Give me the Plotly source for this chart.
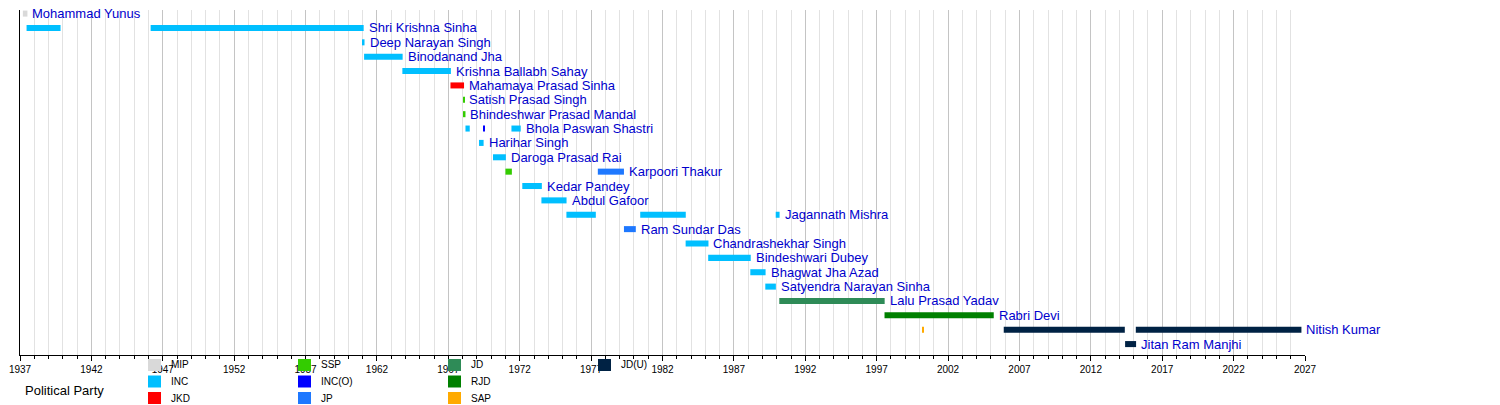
import plotly.graph_objects as go

# chief ministers, one row each (top to bottom)
names = [
    "Mohammad Yunus", "Shri Krishna Sinha", "Deep Narayan Singh", "Binodanand Jha",
    "Krishna Ballabh Sahay", "Mahamaya Prasad Sinha", "Satish Prasad Singh",
    "Bhindeshwar Prasad Mandal", "Bhola Paswan Shastri", "Harihar Singh",
    "Daroga Prasad Rai", "Karpoori Thakur", "Kedar Pandey", "Abdul Gafoor",
    "Jagannath Mishra", "Ram Sundar Das", "Chandrashekhar Singh", "Bindeshwari Dubey",
    "Bhagwat Jha Azad", "Satyendra Narayan Sinha", "Lalu Prasad Yadav", "Rabri Devi",
    "Nitish Kumar", "Jitan Ram Manjhi",
]

# terms in office (decimal years)
term_row = [0, 1, 1, 2, 3, 4, 5, 6, 7, 8, 8, 8, 9, 10, 11, 11, 12, 13,
            14, 14, 14, 15, 16, 17, 18, 19, 20, 21, 22, 22, 22, 23]
term_start = [1937.20, 1937.46, 1946.15, 1961.00, 1961.10, 1963.78, 1967.15, 1968.06,
              1968.07, 1968.20, 1969.43, 1971.42, 1969.15, 1970.13, 1971.00, 1977.47,
              1972.18, 1973.52, 1975.27, 1980.44, 1989.93, 1979.30, 1983.62, 1985.20,
              1988.15, 1989.20, 1990.18, 1997.55, 2000.18, 2005.90, 2015.15, 2014.40]
term_end = [1937.52, 1939.84, 1961.07, 1961.13, 1963.80, 1967.18, 1968.10, 1968.10,
            1968.20, 1968.50, 1969.55, 1972.07, 1969.47, 1971.03, 1971.45, 1979.30,
            1973.55, 1975.28, 1977.33, 1983.63, 1990.20, 1980.13, 1985.22, 1988.18,
            1989.22, 1989.94, 1997.56, 2005.20, 2000.25, 2014.38, 2026.75, 2015.17]
term_party = ["MIP", "INC", "INC", "INC", "INC", "INC", "JKD", "SSP",
              "SSP", "INC", "INC(O)", "INC", "INC", "INC", "SSP", "JP",
              "INC", "INC", "INC", "INC", "INC", "JP", "INC", "INC",
              "INC", "INC", "JD", "RJD", "SAP", "JD(U)", "JD(U)", "JD(U)"]

parties = ["MIP", "INC", "JKD", "SSP", "INC(O)", "JP", "JD", "RJD", "SAP", "JD(U)"]
party_colors = ["#d9d9d9", "#00bfff", "#ff0000", "#33cc00", "#0000ff",
                "#1e78ff", "#2e8b57", "#008000", "#ffaa00", "#002244"]

W, H = 1500, 405
ML, MR, MT, MB = 20, 195, 10, 50
font = "Liberation Sans, Arial, sans-serif"


def px_x(p):
    return (p - ML) / (W - ML - MR)


def px_y(p):
    return (H - MB - p) / (H - MT - MB)


fig = go.Figure()

for party, color in zip(parties, party_colors):
    idx = [i for i, p in enumerate(term_party) if p == party]
    if not idx:
        continue
    fig.add_trace(go.Bar(
        orientation="h",
        y=[term_row[i] for i in idx],
        base=[term_start[i] for i in idx],
        x=[term_end[i] - term_start[i] for i in idx],
        width=0.42,
        marker=dict(color=color, line=dict(width=0)),
        name=party,
        showlegend=False,
        hoverinfo="skip",
    ))

# name labels right after the last term of each row
for r, name in enumerate(names):
    last = max(term_end[i] for i in range(len(term_row)) if term_row[i] == r)
    fig.add_annotation(x=last, y=r, text=name, showarrow=False, xanchor="left",
                       yanchor="middle", xshift=3,
                       font=dict(family=font, size=13, color="#0000cc"))

# party key below the axis
fig.add_annotation(xref="paper", yref="paper", x=px_x(23), y=px_y(390), text="Political Party",
                   showarrow=False, xanchor="left", yanchor="middle",
                   font=dict(family=font, size=13, color="#000000"))
for k, (party, color) in enumerate(zip(parties, party_colors)):
    col, row = k // 3, k % 3
    left = 148 + 150 * col
    top = 359 + 16.5 * row
    fig.add_shape(type="rect", xref="paper", yref="paper", layer="above",
                  x0=px_x(left), x1=px_x(left + 13), y0=px_y(top), y1=px_y(top + 12),
                  fillcolor=color, line=dict(width=0))
    fig.add_annotation(xref="paper", yref="paper", x=px_x(left + 21), y=px_y(top + 6),
                       text=party, showarrow=False, xanchor="left", yanchor="middle",
                       font=dict(family=font, size=10, color="#000000"))

fig.update_layout(
    width=W, height=H,
    margin=dict(l=ML, r=MR, t=MT, b=MB),
    plot_bgcolor="white", paper_bgcolor="white",
    barmode="overlay",
    xaxis=dict(range=[1937, 2027], tick0=1937, dtick=5, ticks="outside", ticklen=5,
               tickcolor="black", showline=True, linecolor="black", zeroline=False,
               showgrid=True, gridcolor="#c4c4c4",
               tickfont=dict(family=font, size=10, color="#000000"),
               minor=dict(tick0=1937, dtick=1, ticks="outside", ticklen=3, tickcolor="black",
                          showgrid=True, gridcolor="#e2e2e2")),
    yaxis=dict(range=[23.76, -0.25], showgrid=False, showticklabels=False, zeroline=False,
               showline=True, linecolor="black", ticks=""),
)

# page body has a default 8px margin; drop it so the figure sits at the corner
fig.write_html("out.html", config={"displayModeBar": False},
               post_script="document.body.style.margin='0';")
